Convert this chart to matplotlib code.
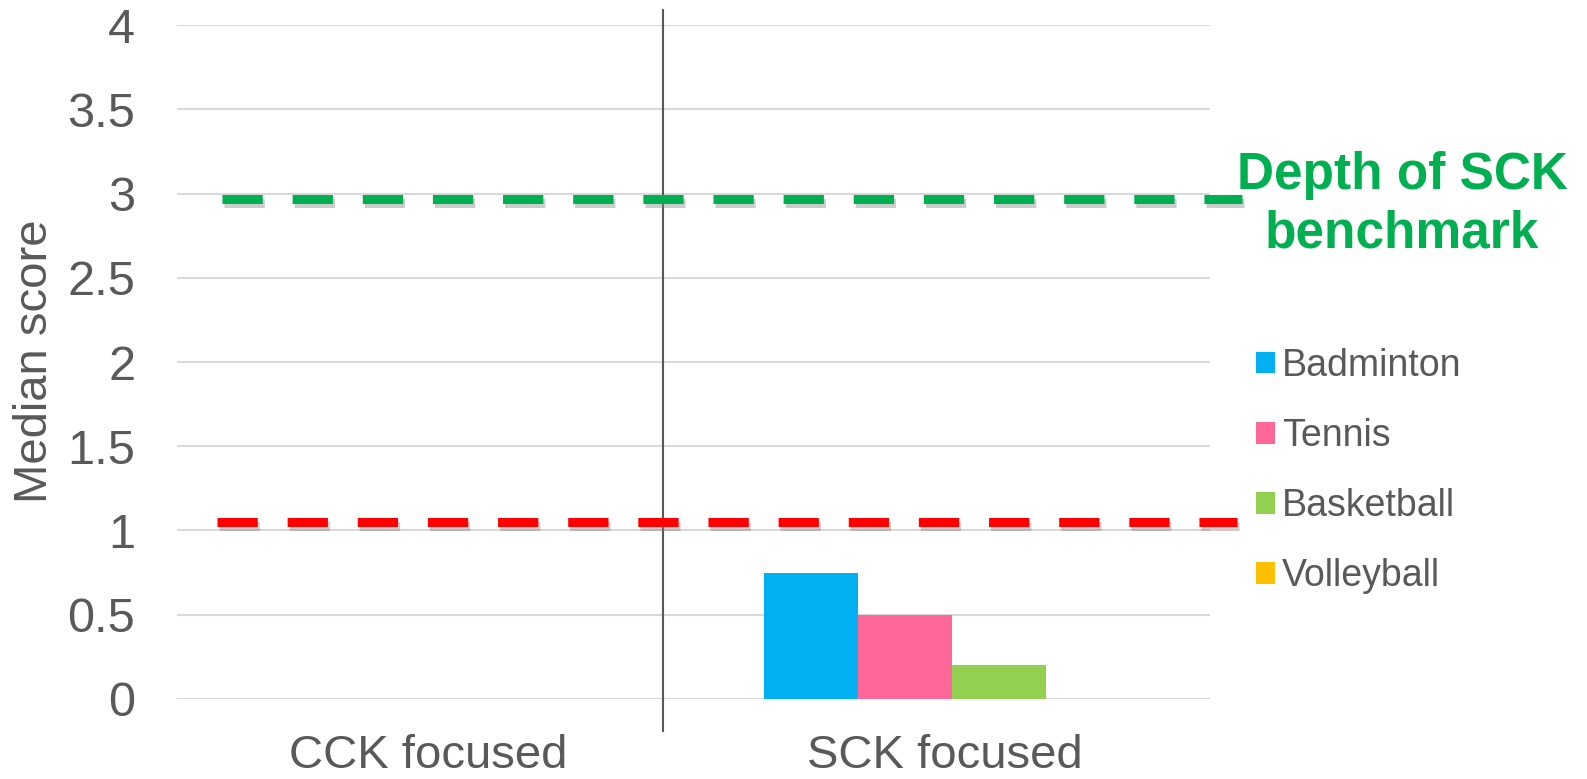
import matplotlib
matplotlib.use("Agg")
import matplotlib.pyplot as plt
import matplotlib.patheffects as pe
import matplotlib.transforms as mtransforms
import numpy as np

plt.rcParams['font.family'] = ['Liberation Sans', 'DejaVu Sans']
plt.rcParams['lines.scale_dashes'] = False

categories = ["CCK focused", "SCK focused"]
sports = ["Badminton", "Tennis", "Basketball", "Volleyball"]
badminton = [0, 0.75]
tennis = [0, 0.5]
basketball = [0, 0.2]
volleyball = [0, 0]
sck_benchmark = 2.97
cck_benchmark = 1.05
yticks = [0, 0.5, 1, 1.5, 2, 2.5, 3, 3.5, 4]
ytick_labels = ["0", "0.5", "1", "1.5", "2", "2.5", "3", "3.5", "4"]

colors = ["#00B0F0", "#FF6699", "#92D050", "#FFC000"]
text_gray = "#595959"

fig = plt.figure(figsize=(15.87, 7.79), dpi=100)
ax = fig.add_axes([0.1115, 0.1027, 0.6510, 0.8652])

x = np.arange(len(categories))
width = 0.182
series = [badminton, tennis, basketball, volleyball]
for i, (vals, name, c) in enumerate(zip(series, sports, colors)):
    ax.bar(x + (i - 1.5) * width, vals, width, color=c, label=name, zorder=2)

ax.set_xlim(-0.5, 1.5)
ax.set_ylim(0, 4)
ax.set_yticks(yticks)
ax.set_yticklabels(ytick_labels)
ax.set_xticks(x)
ax.set_xticklabels(categories)
ax.tick_params(axis='y', length=0, pad=30, labelsize=35, labelcolor=text_gray)
ax.tick_params(axis='x', length=0, pad=25, labelsize=34, labelcolor=text_gray)
shift = mtransforms.ScaledTranslation(-7 / 100, 0, fig.dpi_scale_trans)
for lbl in ax.get_xticklabels():
    lbl.set_transform(lbl.get_transform() + shift)
ax.yaxis.grid(True, color="#D9D9D9", linewidth=1.5, zorder=0)
ax.set_axisbelow(True)
for s in ax.spines.values():
    s.set_visible(False)

fig.text(35 / 1587, 0.5366, "Median score", rotation=90, ha='center', va='center',
         fontsize=34, color=text_gray)

# benchmark lines
trans = mtransforms.blended_transform_factory(ax.transAxes, ax.transData)
shadow = [pe.SimpleLineShadow(offset=(1.5, -3), shadow_color='gray', alpha=0.4), pe.Normal()]
ax.plot([0.0436, 1.031], [sck_benchmark, sck_benchmark], transform=trans, color="#00B050",
        lw=6.5, dashes=(29, 21.5), dash_capstyle='butt', clip_on=False, zorder=4,
        path_effects=shadow)
ax.plot([0.0387, 1.026], [cck_benchmark, cck_benchmark], transform=trans, color="#FF0000",
        lw=6.5, dashes=(29, 21.5), dash_capstyle='butt', clip_on=False, zorder=4,
        path_effects=shadow)

# separator between the two groups
ax.plot([0.4705, 0.4705], [-0.0475, 1.022], transform=ax.transAxes, color=text_gray,
        lw=1.5, clip_on=False, zorder=3)

fig.text(0.8834, 0.737, "Depth of SCK\nbenchmark", ha='center', va='center',
         fontsize=37, fontweight='bold', color="#00B050", linespacing=1.25)

leg = ax.legend(loc='upper left', bbox_to_anchor=(1256 / 1587, (779 - 348) / 779),
                bbox_transform=fig.transFigure, frameon=False, fontsize=27,
                handlelength=0.5, handleheight=0.5, handletextpad=0.2,
                labelspacing=0.91, borderaxespad=0, borderpad=0)
for t in leg.get_texts():
    t.set_color(text_gray)

fig.savefig("out.png", dpi=100)
